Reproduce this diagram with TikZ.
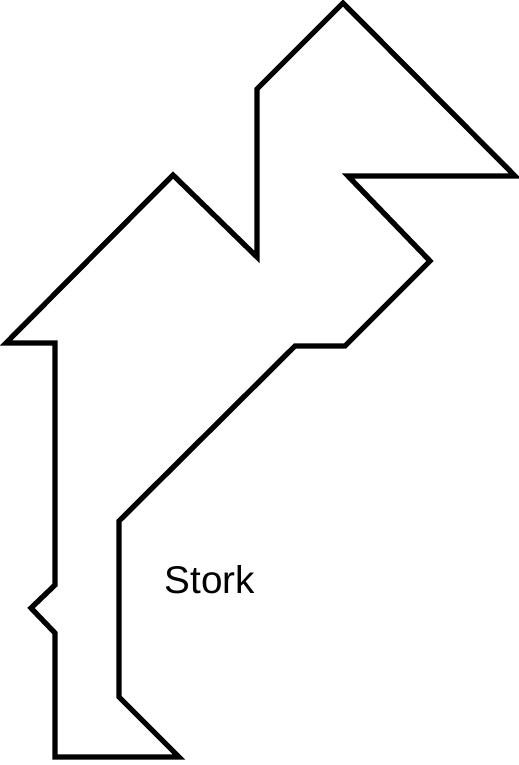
\documentclass[tikz,border=0pt]{standalone}
\usepackage{fontspec}
\setmainfont{Liberation Sans}
\begin{document}
\begin{tikzpicture}[x=0.02cm,y=-0.02cm,outline/.style={draw=black, line width=3pt, line join=miter},label/.style={font=\fontsize{22}{26}\selectfont, inner sep=0pt}]
\useasboundingbox (0,0) rectangle (518,765);
\draw[outline] (6,343) -- (173,175) -- (257,257) -- (257,89) -- (343,3) -- (515,176) -- (348,176) -- (430,261) -- (345,346) -- (295,346) -- (119,521) -- (119,697) -- (179,757) -- (55,757) -- (55,633) -- (31,608) -- (55,585) -- (55,343) -- cycle;
\node[label] (stork) at (210,580) {Stork};
\end{tikzpicture}
\end{document}
